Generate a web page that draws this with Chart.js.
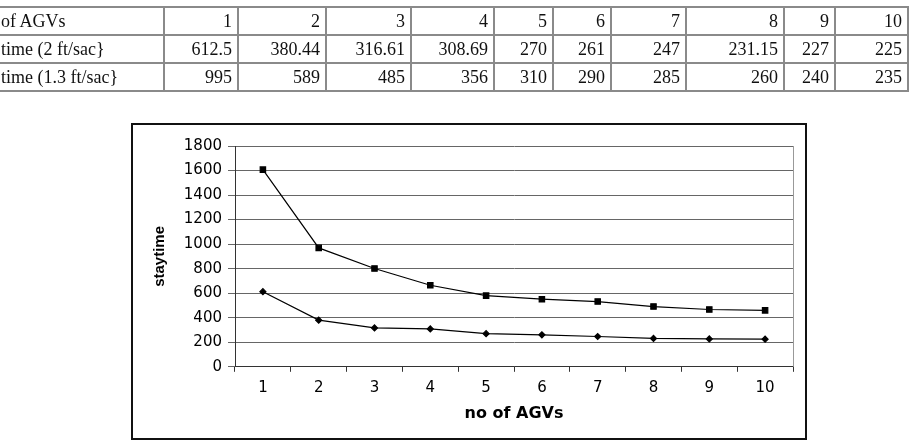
<!DOCTYPE html>
<html>
<head>
<meta charset="utf-8">
<script src="https://cdn.jsdelivr.net/npm/chart.js@4"></script>
<style>
  html, body { margin: 0; padding: 0; background: #fff; }
  body { width: 912px; height: 446px; position: relative; overflow: hidden; }
  #tbl {
    position: absolute; left: -20px; top: 6px;
    border-collapse: collapse; table-layout: fixed; width: 927px;
    font-family: 'Liberation Serif', serif; font-size: 18px; color: #111;
  }
  #tbl td {
    border: 2px solid #8a8a8a; height: 26px; padding: 0 5px 0 0;
    text-align: right; white-space: nowrap; overflow: hidden; line-height: 26px;
  }
  #tbl td.lbl { text-align: left; padding-left: 19px; }
  #frame {
    position: absolute; left: 131px; top: 123px; width: 672px; height: 313px;
    border: 2px solid #111; pointer-events: none;
  }
  #chart { position: absolute; left: 0; top: 0; }
</style>
</head>
<body>
<canvas id="chart" width="912" height="446"></canvas>
<div id="frame"></div>
<table id="tbl">
  <colgroup>
    <col style="width:183px"><col style="width:74px"><col style="width:88px"><col style="width:85px">
    <col style="width:83px"><col style="width:59px"><col style="width:58px"><col style="width:75px">
    <col style="width:98px"><col style="width:51px"><col style="width:73px">
  </colgroup>
  <tbody id="tbody"></tbody>
</table>
<script>
// table / chart data
const rowLabels = ['of AGVs', 'time (2 ft/sac}', 'time (1.3 ft/sac}']
const agvs = ['1', '2', '3', '4', '5', '6', '7', '8', '9', '10']
const time2 = [612.5, 380.44, 316.61, 308.69, 270, 261, 247, 231.15, 227, 225]
const time13 = [995, 589, 485, 356, 310, 290, 285, 260, 240, 235]
const yTicks = [0, 200, 400, 600, 800, 1000, 1200, 1400, 1600, 1800]

// build the table on top
const tbody = document.getElementById('tbody')
;[agvs, time2, time13].forEach((vals, i) => {
  const tr = document.createElement('tr')
  const th = document.createElement('td')
  th.className = 'lbl'
  th.textContent = rowLabels[i]
  tr.appendChild(th)
  vals.forEach((v) => {
    const td = document.createElement('td')
    td.textContent = String(v)
    tr.appendChild(td)
  })
  tbody.appendChild(tr)
})

// gray line on the right edge of the plot area
const plotEdge = {
  id: 'plotEdge',
  afterDraw(chart) {
    const { ctx, chartArea } = chart
    ctx.save()
    ctx.strokeStyle = '#999'
    ctx.lineWidth = 1
    ctx.beginPath()
    ctx.moveTo(chartArea.right + 0.5, chartArea.top)
    ctx.lineTo(chartArea.right + 0.5, chartArea.bottom)
    ctx.stroke()
    ctx.restore()
  },
}

const tickFont = { family: 'DejaVu Sans', size: 15 }

new Chart(document.getElementById('chart'), {
  type: 'line',
  data: {
    labels: agvs,
    datasets: [
      {
        label: 'staytime (2 ft/sac}',
        data: time2,
        borderColor: '#000',
        backgroundColor: '#000',
        borderWidth: 1.2,
        pointStyle: 'rectRot',
        pointRadius: 3,
        tension: 0,
        fill: false,
      },
      {
        label: 'staytime (1.3 ft/sac}',
        data: time13,
        borderColor: '#000',
        backgroundColor: '#000',
        borderWidth: 1.2,
        pointStyle: 'rect',
        pointRadius: 3.8,
        tension: 0,
        fill: false,
      },
    ],
  },
  options: {
    responsive: false,
    animation: false,
    layout: { padding: { left: 145, right: 119, top: 146, bottom: 19 } },
    plugins: { legend: { display: false }, tooltip: { enabled: false } },
    scales: {
      x: {
        offset: true,
        grid: { offset: true, drawOnChartArea: false, drawTicks: true, tickLength: 5, color: '#333' },
        border: { color: '#333', width: 1 },
        ticks: { color: '#000', font: tickFont, padding: 7, maxRotation: 0 },
        title: {
          display: true,
          text: 'no of AGVs',
          color: '#000',
          font: { family: 'DejaVu Sans', size: 16, weight: 'bold' },
          padding: { top: 0, bottom: 4 },
        },
      },
      y: {
        stacked: true,
        min: 0,
        max: 1800,
        afterBuildTicks: (scale) => {
          scale.ticks = yTicks.map((v) => ({ value: v }))
        },
        afterFit: (scale) => {
          scale.width = 90
        },
        grid: { color: '#666', lineWidth: 1, tickLength: 7 },
        border: { color: '#333', width: 1 },
        ticks: { color: '#000', font: tickFont, padding: 6, callback: (v) => String(v) },
        title: {
          display: true,
          text: 'staytime',
          color: '#000',
          font: { family: 'Liberation Sans', size: 15, weight: 'bold' },
          padding: { top: 6, bottom: 0 },
        },
      },
    },
  },
  plugins: [plotEdge],
})
</script>
</body>
</html>
